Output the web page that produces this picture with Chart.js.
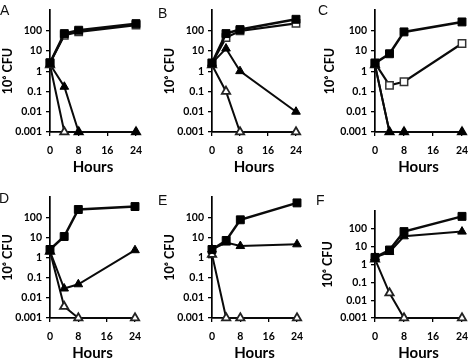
<!DOCTYPE html>
<html><head><meta charset="utf-8">
<script src="https://cdn.jsdelivr.net/npm/chart.js@4/dist/chart.umd.min.js"></script>
<style>
html,body{margin:0;padding:0;width:469px;height:360px;overflow:hidden;background:#fff}
.p{position:absolute}
.lab{position:absolute;font:14px "Liberation Sans",Arial,sans-serif;color:#111;line-height:16px}
</style></head><body>
<script>
// ---- data ----
const hours = [0, 4, 8, 24];
const xTicks = [0, 8, 16, 24];
const xTickLabels = ['0', '8', '16', '24'];
const yTicks = [0.001, 0.01, 0.1, 1, 10, 100];
const yTickLabels = ['0.001', '0.01', '0.1', '1', '10', '100'];
const panelLetters = ['A', 'B', 'C', 'D', 'E', 'F'];
const xTitle = 'Hours';
const yTitle = '10\u2076 CFU';

const aFilledSquare   = [2.6, 71, 104, 220];
const aOpenSquare     = [2.5, 59, 86, 185];
const aFilledTriangle = [2.2, 0.17, 0.001, 0.001];
const aOpenTriangle   = [2.0, 0.001, 0.001, 0.001];

const bFilledSquare   = [2.5, 71, 112, 360];
const bOpenSquare     = [2.5, 45, 96, 225];
const bFilledTriangle = [2.5, 13, 1.0, 0.01];
const bOpenTriangle   = [2.0, 0.1, 0.001, 0.001];

const cFilledSquare   = [2.5, 7.2, 86, 267];
const cOpenSquare     = [2.5, 0.2, 0.3, 23];
const cFilledTriangle = [2.0, 0.001, 0.001, 0.001];
const cOpenTriangle   = [2.0, 0.001, 0.001, 0.001];

const dFilledSquare   = [2.5, 11, 240, 336];
const dFilledTriangle = [2.0, 0.029, 0.047, 2.3];
const dOpenTriangle   = [2.0, 0.0037, 0.001, 0.001];

const eFilledSquare   = [2.5, 7.0, 74, 510];
const eFilledTriangle = [2.5, 5.5, 3.7, 4.5];
const eOpenTriangle   = [1.4, 0.001, 0.001, 0.001];

const fFilledSquare   = [2.5, 6.5, 70, 500];
const fFilledTriangle = [2.5, 5.0, 38, 70];
const fOpenTriangle   = [2.0, 0.025, 0.001, 0.001];

const panelSeries = [
  {filledSquare: aFilledSquare, openSquare: aOpenSquare, filledTriangle: aFilledTriangle, openTriangle: aOpenTriangle},
  {filledSquare: bFilledSquare, openSquare: bOpenSquare, filledTriangle: bFilledTriangle, openTriangle: bOpenTriangle},
  {filledSquare: cFilledSquare, openSquare: cOpenSquare, filledTriangle: cFilledTriangle, openTriangle: cOpenTriangle},
  {filledSquare: dFilledSquare, filledTriangle: dFilledTriangle, openTriangle: dOpenTriangle},
  {filledSquare: eFilledSquare, filledTriangle: eFilledTriangle, openTriangle: eOpenTriangle},
  {filledSquare: fFilledSquare, filledTriangle: fFilledTriangle, openTriangle: fOpenTriangle}
];

// ---- layout (pixel frames of each panel) ----
const frames = [
  {left: 0,   top: 0,   axisX: 50,  axisTop: 10,  axisRight: 136, axisBottom: 132},
  {left: 162, top: 0,   axisX: 212, axisTop: 10,  axisRight: 296, axisBottom: 132},
  {left: 322, top: 0,   axisX: 375, axisTop: 10,  axisRight: 462, axisBottom: 132},
  {left: 0,   top: 180, axisX: 50,  axisTop: 197, axisRight: 135, axisBottom: 318},
  {left: 162, top: 180, axisX: 212, axisTop: 197, axisRight: 297, axisBottom: 318},
  {left: 320, top: 180, axisX: 375, axisTop: 211, axisRight: 462, axisBottom: 318}
];
const letterPos = [
  {x: 0, y: 2}, {x: 158, y: 5}, {x: 318, y: 2},
  {x: -1, y: 190}, {x: 158, y: 192}, {x: 316, y: 192}
];

const styles = {
  filledSquare:   {pointStyle: 'rect', radius: 5.6, bg: '#000', bc: '#000', pbw: 1, lw: 2.5},
  openSquare:     {pointStyle: 'rect', radius: 5.2, bg: '#fff', bc: '#333', pbw: 1.5, lw: 2.2},
  filledTriangle: {pointStyle: 'triangle', radius: 5, bg: '#000', bc: '#000', pbw: 1, lw: 2},
  openTriangle:   {pointStyle: 'triangle', radius: 4.8, bg: '#fff', bc: '#222', pbw: 1.8, lw: 2}
};
const drawOrder = ['filledSquare', 'openSquare', 'filledTriangle', 'openTriangle'];

const FONT = 'Lato, "Liberation Sans", Arial, sans-serif';
const X_AXIS_H = 44;

panelSeries.forEach((series, pi) => {
  const fr = frames[pi];
  const width = fr.axisRight + 20 - fr.left;
  const height = fr.axisBottom + X_AXIS_H + 6 - fr.top;
  const div = document.createElement('div');
  div.className = 'p';
  div.style.left = fr.left + 'px';
  div.style.top = fr.top + 'px';
  div.style.width = width + 'px';
  div.style.height = height + 'px';
  const cv = document.createElement('canvas');
  cv.width = width; cv.height = height;
  cv.style.width = width + 'px'; cv.style.height = height + 'px';
  div.appendChild(cv);
  document.body.appendChild(div);

  const lab = document.createElement('div');
  lab.className = 'lab';
  lab.textContent = panelLetters[pi];
  lab.style.left = letterPos[pi].x + 'px';
  lab.style.top = letterPos[pi].y + 'px';
  document.body.appendChild(lab);

  const datasets = drawOrder.filter(k => series[k]).map(k => {
    const s = styles[k];
    return {
      label: k,
      data: hours.map((h, i) => ({x: h, y: series[k][i]})),
      borderColor: '#0a0a0a',
      borderWidth: s.lw,
      backgroundColor: s.bg,
      pointStyle: s.pointStyle,
      pointRadius: s.radius,
      pointBackgroundColor: s.bg,
      pointBorderColor: s.bc,
      pointBorderWidth: s.pbw,
      tension: 0,
      clip: false
    };
  });

  new Chart(cv, {
    type: 'line',
    data: {datasets},
    options: {
      responsive: false,
      animation: false,
      devicePixelRatio: 1,
      layout: {padding: {left: 0, top: fr.axisTop - fr.top, right: fr.left + width - fr.axisRight, bottom: fr.top + height - fr.axisBottom - X_AXIS_H}},
      plugins: {legend: {display: false}, tooltip: {enabled: false}},
      scales: {
        x: {
          type: 'linear', min: 0, max: 24,
          afterBuildTicks: sc => { sc.ticks = xTicks.map(v => ({value: v})); },
          afterFit: sc => { sc.height = X_AXIS_H; },
          grid: {drawOnChartArea: false, drawTicks: true, tickLength: 4, color: '#000', lineWidth: 1.3},
          border: {display: true, color: '#000', width: 1.7},
          ticks: {color: '#000', padding: 8, maxRotation: 0, autoSkip: false,
                  font: {family: FONT, size: 10.5, weight: 'bold'},
                  callback: (v, i) => xTickLabels[i]},
          title: {display: true, text: xTitle, color: '#000', padding: {top: 0, bottom: 0},
                  font: {family: FONT, size: 15, weight: 'bold'}}
        },
        y: {
          type: 'logarithmic', min: 0.001, max: 1000,
          afterBuildTicks: sc => { sc.ticks = yTicks.map(v => ({value: v})); },
          afterFit: sc => { sc.width = fr.axisX - fr.left; },
          grid: {drawOnChartArea: false, drawTicks: true, tickLength: 4, color: '#000', lineWidth: 1.3},
          border: {display: true, color: '#000', width: 1.7},
          ticks: {color: '#000', padding: 4, autoSkip: false,
                  font: {family: FONT, size: 10.5, weight: 'bold'},
                  callback: (v, i) => yTickLabels[i]},
          title: {display: true, text: yTitle, color: '#000', padding: {top: 0, bottom: 0},
                  font: {family: FONT, size: 12.5, weight: 'bold'}}
        }
      }
    }
  });
});
</script>
</body></html>
